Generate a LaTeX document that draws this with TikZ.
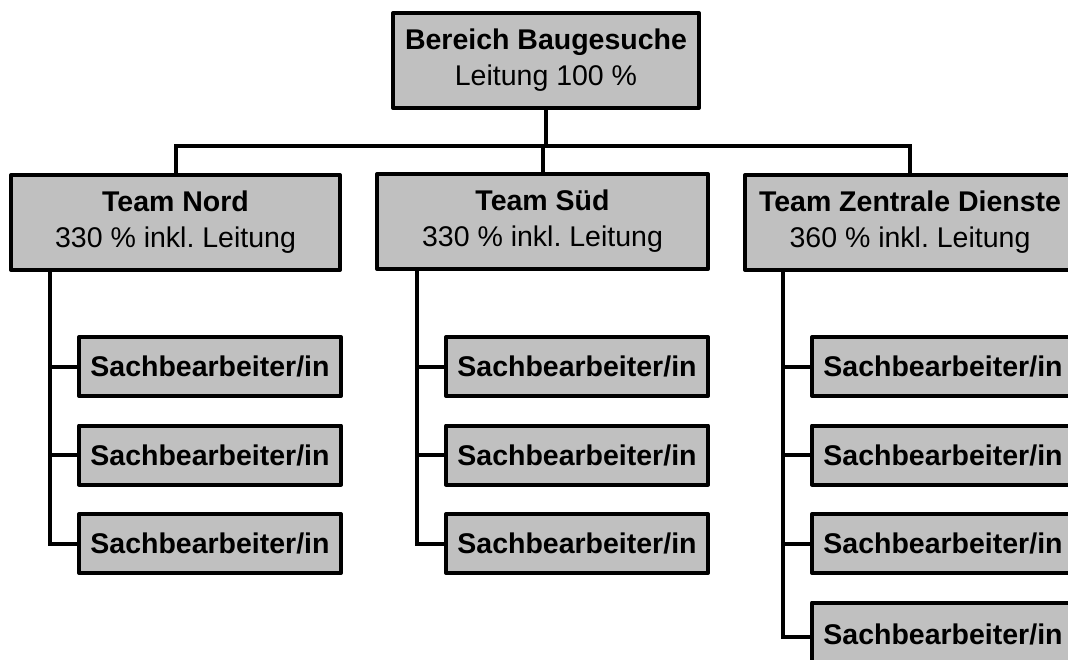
\documentclass[tikz,border=0pt]{standalone}
\usepackage{fontspec}
\setmainfont{Liberation Sans}
\usetikzlibrary{positioning}
\definecolor{boxgray}{RGB}{192, 192, 192}
\frenchspacing

\begin{document}
\begin{tikzpicture}[
      x=1pt, y=-1pt,
      unit/.style={rectangle, draw=black, fill=boxgray,
                   line width=4pt, line join=round,
                   inner sep=0pt, align=center,
                   minimum height=95pt,
                   font=\fontsize{28.5}{36}\selectfont},
      staff/.style={unit, anchor=north west,
                    minimum width=262pt, minimum height=59pt,
                    font=\fontsize{28.5}{36}\selectfont\bfseries},
      link/.style={line width=4pt},
  ]
  \useasboundingbox (0,0) rectangle (1068,660);
  \clip (0,0) rectangle (1068,660);

  % head and teams
  \node[unit, minimum width=306pt] (top)
      at (546, 60.5) {\textbf{Bereich Baugesuche}\\Leitung 100 \%};
  \node[unit, minimum width=329pt] (nord)
      at (175.5, 222.5) {\textbf{Team Nord}\\330 \% inkl. Leitung};
  \node[unit, minimum width=331pt] (sued)
      at (542.5, 221.5) {\textbf{Team Süd}\\330 \% inkl. Leitung};
  \node[unit, minimum width=330pt] (zd)
      at (910, 222.5) {\textbf{Team Zentrale Dienste}\\360 \% inkl. Leitung};

  \coordinate (bus) at (546, 146);
  \draw[link] (top) -- (bus);
  \draw[link] (nord.north) |- (bus) -| (zd.north);
  \draw[link] (sued.north) -- (sued.north |- bus);

  % trunks
  \coordinate (nt) at ([xshift=41pt]nord.south west);
  \coordinate (st) at ([xshift=42pt]sued.south west);
  \coordinate (zt) at ([xshift=40pt]zd.south west);

  % Team Nord
  \node[staff] (n1) at (77, 335) {Sachbearbeiter/in};
  \node[staff, below=25.5pt of n1.south west, anchor=north west] (n2) {Sachbearbeiter/in};
  \node[staff, below=25.5pt of n2.south west, anchor=north west] (n3) {Sachbearbeiter/in};
  \draw[link] (nt) |- (n3.west);
  \draw[link] (n1.west) -- (n1.west -| nt);
  \draw[link] (n2.west) -- (n2.west -| nt);

  % Team Sued
  \node[staff] (s1) at (444, 335) {Sachbearbeiter/in};
  \node[staff, below=25.5pt of s1.south west, anchor=north west] (s2) {Sachbearbeiter/in};
  \node[staff, below=25.5pt of s2.south west, anchor=north west] (s3) {Sachbearbeiter/in};
  \draw[link] (st) |- (s3.west);
  \draw[link] (s1.west) -- (s1.west -| st);
  \draw[link] (s2.west) -- (s2.west -| st);

  % Team Zentrale Dienste
  \node[staff] (z1) at (810, 335) {Sachbearbeiter/in};
  \node[staff, below=25.5pt of z1.south west, anchor=north west] (z2) {Sachbearbeiter/in};
  \node[staff, below=25.5pt of z2.south west, anchor=north west] (z3) {Sachbearbeiter/in};
  \node[staff, below=25.5pt of z3.south west, anchor=north west,
        minimum height=64pt] (z4) {Sachbearbeiter/in};
  \draw[link] (zt) |- ([yshift=-2.5pt]z4.west);
  \draw[link] (z1.west) -- (z1.west -| zt);
  \draw[link] (z2.west) -- (z2.west -| zt);
  \draw[link] (z3.west) -- (z3.west -| zt);
\end{tikzpicture}
\end{document}
